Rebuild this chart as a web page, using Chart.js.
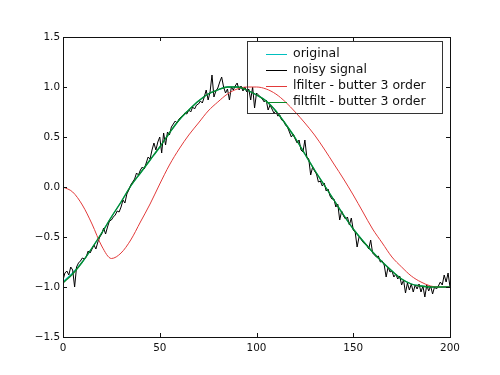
<!DOCTYPE html>
<html>
<head>
<meta charset="utf-8">
<script src="https://cdn.jsdelivr.net/npm/chart.js"></script>
<style>
  body { margin: 0; background: #fff; }
  #chart { display: block; }
</style>
</head>
<body>
<canvas id="chart" width="500" height="375"></canvas>
<script>
// smooth curves, read every 5 samples
const smoothX = [0, 5, 10, 15, 20, 25, 30, 35, 40, 45, 50, 55, 60, 65, 70, 75, 80, 85, 90, 95, 100,
  105, 110, 115, 120, 125, 130, 135, 140, 145, 150, 155, 160, 165, 170, 175, 180, 185, 190, 195, 200];

const original = [-0.95, -0.86, -0.75, -0.61, -0.46, -0.30, -0.15, 0.01, 0.14, 0.27, 0.40,
  0.54, 0.67, 0.77, 0.86, 0.93, 0.97, 1.00, 1.00, 0.97, 0.92,
  0.86, 0.76, 0.63, 0.49, 0.33, 0.17, 0.02, -0.13, -0.28, -0.42,
  -0.54, -0.65, -0.75, -0.84, -0.92, -0.97, -0.99, -1.00, -1.00, -1.00];

const filtfilt = [-0.96, -0.87, -0.75, -0.61, -0.46, -0.30, -0.15, 0.01, 0.14, 0.27, 0.40,
  0.54, 0.67, 0.77, 0.86, 0.93, 0.97, 1.00, 1.00, 0.97, 0.92,
  0.86, 0.76, 0.63, 0.49, 0.33, 0.17, 0.02, -0.13, -0.28, -0.42,
  -0.54, -0.65, -0.75, -0.84, -0.92, -0.97, -0.99, -1.00, -1.00, -1.00];

const lfilter = [0.00, -0.05, -0.18, -0.37, -0.59, -0.715, -0.66, -0.53, -0.35, -0.17, 0.03,
  0.22, 0.38, 0.52, 0.64, 0.76, 0.85, 0.93, 0.98, 1.00, 1.00,
  0.98, 0.93, 0.85, 0.75, 0.64, 0.52, 0.38, 0.23, 0.08, -0.08,
  -0.25, -0.42, -0.56, -0.70, -0.80, -0.89, -0.95, -0.99, -1.00, -1.00];

// noisy signal, one value per sample 0..200
const noisy = [
  -0.93, -0.86, -0.84, -0.88, -0.80, -0.83, -1.00, -0.80, -0.76, -0.74,
  -0.71, -0.72, -0.70, -0.64, -0.66, -0.62, -0.58, -0.62, -0.55, -0.50,
  -0.47, -0.41, -0.47, -0.40, -0.34, -0.33, -0.30, -0.28, -0.24, -0.25,
  -0.20, -0.13, -0.16, -0.07, -0.03, 0.02, 0.05, 0.08, 0.14, 0.12,
  0.17, 0.20, 0.18, 0.24, 0.30, 0.28, 0.37, 0.44, 0.37, 0.45,
  0.50, 0.34, 0.54, 0.42, 0.55, 0.52, 0.60, 0.63, 0.66, 0.64,
  0.68, 0.70, 0.71, 0.74, 0.73, 0.77, 0.75, 0.80, 0.78, 0.82,
  0.83, 0.86, 0.84, 0.90, 0.97, 0.87, 0.95, 1.12, 0.90, 0.96,
  0.99, 1.05, 1.10, 1.00, 0.94, 0.98, 0.87, 1.00, 0.97, 1.01,
  1.04, 0.97, 1.01, 0.96, 1.00, 0.95, 0.98, 0.87, 1.00, 0.79,
  0.94, 0.92, 0.90, 0.88, 0.85, 0.87, 0.77, 0.82, 0.78, 0.74,
  0.76, 0.71, 0.72, 0.67, 0.66, 0.62, 0.60, 0.55, 0.50, 0.53,
  0.48, 0.44, 0.47, 0.37, 0.35, 0.47, 0.30, 0.28, 0.12, 0.20,
  0.16, 0.13, 0.05, 0.06, 0.01, 0.04, -0.04, -0.02, -0.09, -0.12,
  -0.12, -0.20, -0.17, -0.33, -0.24, -0.29, -0.32, -0.30, -0.38, -0.31,
  -0.43, -0.45, -0.60, -0.50, -0.52, -0.55, -0.57, -0.58, -0.62, -0.53,
  -0.66, -0.68, -0.70, -0.69, -0.75, -0.74, -0.78, -0.90, -0.80, -0.85,
  -0.84, -0.90, -0.87, -0.92, -0.89, -0.98, -0.93, -1.06, -0.96, -1.03,
  -0.97, -1.05, -0.98, -1.02, -0.97, -1.05, -0.99, -1.10, -0.98, -1.04,
  -0.99, -1.07, -1.00, -1.02, -0.99, -0.95, -0.98, -0.88, -0.95, -0.86,
  -1.00
];

const labels = ['original', 'noisy signal', 'lfilter - butter 3 order', 'filtfilt - butter 3 order'];
const colors = ['#00bfbf', '#000000', '#e23a3a', '#0a8a2a'];

const xTicks = [0, 50, 100, 150, 200];
const yTicks = [-1.5, -1.0, -0.5, 0.0, 0.5, 1.0, 1.5];

function pts(xs, ys) {
  return ys.map((y, i) => ({ x: xs[i], y: y }));
}

const FONT = 'DejaVu Sans, Bitstream Vera Sans, sans-serif';

// frame, inward ticks and legend, matplotlib style
const mplPlugin = {
  id: 'mpl',
  afterDatasetsDraw(chart) {
    const ctx = chart.ctx;
    const a = chart.chartArea;
    const xs = chart.scales.x, ys = chart.scales.y;
    ctx.save();
    ctx.strokeStyle = '#111';
    ctx.lineWidth = 1;
    ctx.strokeRect(Math.round(a.left) + 0.5, Math.round(a.top) + 0.5,
      Math.round(a.right - a.left), Math.round(a.bottom - a.top));
    xTicks.forEach(v => {
      const p = Math.round(xs.getPixelForValue(v)) + 0.5;
      ctx.beginPath();
      ctx.moveTo(p, a.bottom); ctx.lineTo(p, a.bottom - 4);
      ctx.moveTo(p, a.top); ctx.lineTo(p, a.top + 4);
      ctx.stroke();
    });
    yTicks.forEach(v => {
      const p = Math.round(ys.getPixelForValue(v)) + 0.5;
      ctx.beginPath();
      ctx.moveTo(a.left, p); ctx.lineTo(a.left + 4, p);
      ctx.moveTo(a.right, p); ctx.lineTo(a.right - 4, p);
      ctx.stroke();
    });

    // legend (no fill, like the reference)
    const bx = 247.5, by = 41.5, bw = 195, bh = 72;
    ctx.strokeStyle = '#333';
    ctx.strokeRect(bx, by, bw, bh);
    ctx.font = '12.5px ' + FONT;
    ctx.textBaseline = 'middle';
    ctx.textAlign = 'left';
    const rows = [54, 70, 86, 102];
    labels.forEach((t, i) => {
      ctx.strokeStyle = colors[i];
      ctx.beginPath();
      ctx.moveTo(266, rows[i] + 0.5);
      ctx.lineTo(287, rows[i] + 0.5);
      ctx.stroke();
      ctx.fillStyle = '#111';
      ctx.fillText(t, 293, rows[i]);
    });
    ctx.restore();
  }
};

new Chart(document.getElementById('chart'), {
  type: 'line',
  data: {
    datasets: [
      { label: labels[0], data: pts(smoothX, original), borderColor: colors[0], order: 4,
        borderWidth: 1.3, cubicInterpolationMode: 'monotone' },
      { label: labels[1], data: pts(noisy.map((v, i) => i), noisy), borderColor: colors[1], order: 3,
        tension: 0 },
      { label: labels[2], data: pts(smoothX, lfilter), borderColor: colors[2], order: 2,
        cubicInterpolationMode: 'monotone' },
      { label: labels[3], data: pts(smoothX, filtfilt), borderColor: colors[3], order: 1,
        borderWidth: 1.3, cubicInterpolationMode: 'monotone' }
    ]
  },
  options: {
    responsive: false,
    animation: false,
    events: [],
    datasets: { line: { borderWidth: 1, pointRadius: 0, fill: false } },
    layout: { padding: { top: 37, right: 50, left: 0, bottom: 0 } },
    plugins: { legend: { display: false }, tooltip: { enabled: false } },
    scales: {
      x: {
        type: 'linear', min: 0, max: 200,
        afterFit: s => { s.height = 38; },
        afterBuildTicks: s => { s.ticks = xTicks.map(v => ({ value: v })); },
        grid: { display: false, drawTicks: false },
        border: { display: false },
        ticks: { color: '#111', padding: 5, maxRotation: 0, font: { family: FONT, size: 10.4 },
          callback: v => String(v) }
      },
      y: {
        type: 'linear', min: -1.5, max: 1.5,
        afterFit: s => { s.width = 63; },
        afterBuildTicks: s => { s.ticks = yTicks.map(v => ({ value: v })); },
        grid: { display: false, drawTicks: false },
        border: { display: false },
        ticks: { color: '#111', padding: 3, font: { family: FONT, size: 10.4 },
          callback: v => v.toFixed(1).replace('-', '\u2212') }
      }
    }
  },
  plugins: [mplPlugin]
});
</script>
</body>
</html>
